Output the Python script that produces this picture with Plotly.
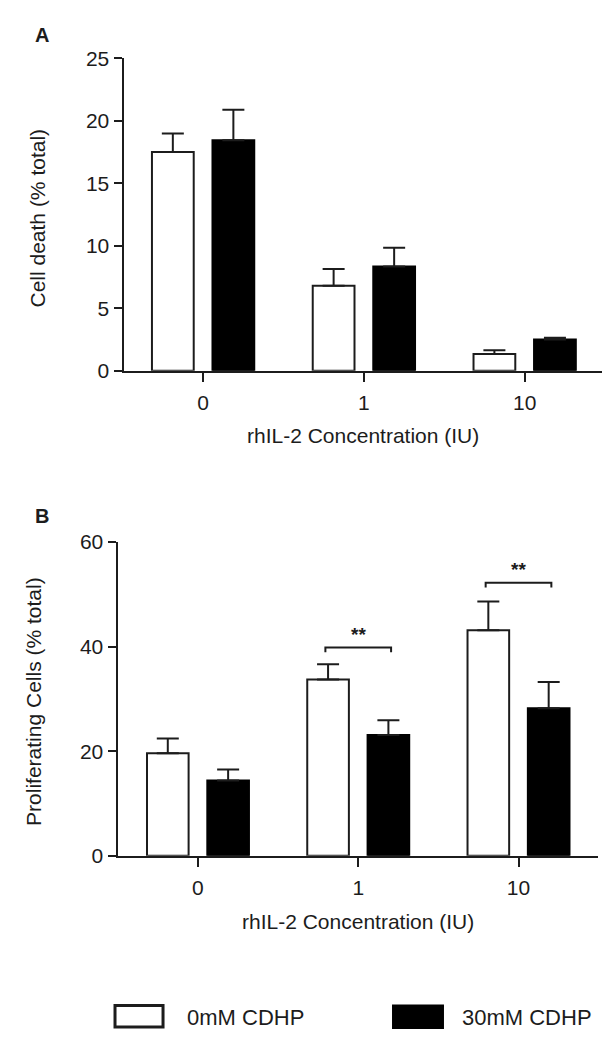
import plotly.graph_objects as go

# ---------------- data ----------------
categories = ["0", "1", "10"]
cat_pos = [0, 1, 2]

death_0mM = [17.5, 6.8, 1.35]
death_0mM_err = [1.5, 1.35, 0.3]
death_30mM = [18.45, 8.35, 2.5]
death_30mM_err = [2.45, 1.5, 0.15]

prolif_0mM = [19.6, 33.7, 43.1]
prolif_0mM_err = [2.8, 2.9, 5.5]
prolif_30mM = [14.4, 23.1, 28.2]
prolif_30mM_err = [2.1, 2.8, 5.0]

sig_categories = [1, 2]
sig_heights = [39.8, 52.2]
sig_labels = ["**", "**"]

series_names = ["0mM CDHP", "30mM CDHP"]

# ---------------- style ----------------
FONT = "Liberation Sans, Arial, Helvetica, sans-serif"
INK = "#1c1c1c"
BRACKET_HALF = 0.205
# the page body has an 8px default margin, so the figure is 8px smaller
W, H = 607, 1042

fig = go.Figure()


def add_pair(xa, ya, v0, e0, v1, e1):
    fig.add_trace(go.Bar(
        x=cat_pos, y=v0, name=series_names[0], xaxis=xa, yaxis=ya,
        marker=dict(color="white", line=dict(color=INK, width=2)),
        error_y=dict(type="data", array=e0, arrayminus=[0] * len(e0), symmetric=False,
                     color=INK, thickness=2, width=11),
        showlegend=False, offsetgroup="a"))
    fig.add_trace(go.Bar(
        x=cat_pos, y=v1, name=series_names[1], xaxis=xa, yaxis=ya,
        marker=dict(color="black", line=dict(color="black", width=2)),
        error_y=dict(type="data", array=e1, arrayminus=[0] * len(e1), symmetric=False,
                     color=INK, thickness=2, width=11),
        showlegend=False, offsetgroup="b"))


add_pair("x", "y", death_0mM, death_0mM_err, death_30mM, death_30mM_err)
add_pair("x2", "y2", prolif_0mM, prolif_0mM_err, prolif_30mM, prolif_30mM_err)

common_x = dict(tickmode="array", tickvals=cat_pos, ticktext=categories,
                showline=True, linecolor=INK, linewidth=2, ticks="outside",
                ticklen=9, tickwidth=2, tickcolor=INK, showgrid=False, zeroline=False,
                tickfont=dict(family=FONT, size=21, color=INK), ticklabelstandoff=3,
                fixedrange=True)
common_y = dict(showline=True, linecolor=INK, linewidth=2, ticks="outside",
                ticklen=8, tickwidth=2, tickcolor=INK, showgrid=False, zeroline=False,
                tickfont=dict(family=FONT, size=21, color=INK), fixedrange=True)

fig.update_layout(
    width=W, height=H,
    margin=dict(l=0, r=0, t=0, b=0),
    paper_bgcolor="white", plot_bgcolor="white",
    barmode="group", bargap=0.247, bargroupgap=0.31,
    font=dict(family=FONT, color=INK),
    xaxis=dict(domain=[0.1903, 0.9786], range=[-0.495, 2.481], anchor="y", **common_x),
    yaxis=dict(domain=[0.6558, 0.9623], range=[0, 25], tickvals=[0, 5, 10, 15, 20, 25],
               anchor="x", **common_y),
    xaxis2=dict(domain=[0.1804, 0.972], range=[-0.502, 2.496], anchor="y2", **common_x),
    yaxis2=dict(domain=[0.1798, 0.4878], range=[0, 60], tickvals=[0, 20, 40, 60],
                anchor="x2", **common_y),
)

# significance brackets (panel B)
drop = 0.9
for c, h, lab in zip(sig_categories, sig_heights, sig_labels):
    x0, x1 = c - BRACKET_HALF, c + BRACKET_HALF
    fig.add_shape(type="path", xref="x2", yref="y2",
                  path=f"M {x0},{h - drop} L {x0},{h} L {x1},{h} L {x1},{h - drop}",
                  line=dict(color=INK, width=2))
    fig.add_annotation(x=c, y=h + 0.1, xref="x2", yref="y2", text=f"<b>{lab}</b>",
                       showarrow=False, yanchor="bottom",
                       font=dict(family=FONT, size=19, color=INK))

# axis titles & panel letters
ann = [
    dict(x=0.0568, y=0.9851, text="<b>A</b>", font=dict(size=20)),
    dict(x=0.0568, y=0.5130, text="<b>B</b>", font=dict(size=20)),
    dict(x=0.0478, y=0.8052, text="Cell death (% total)", textangle=-90, font=dict(size=21)),
    dict(x=0.0417, y=0.3311, text="Proliferating Cells (% total)", textangle=-90, font=dict(size=21)),
    dict(x=0.5844, y=0.5921, text="rhIL-2 Concentration (IU)", font=dict(size=21)),
    dict(x=0.5763, y=0.1152, text="rhIL-2 Concentration (IU)", font=dict(size=21)),
]
for a in ann:
    f = dict(family=FONT, color=INK)
    f.update(a.pop("font"))
    fig.add_annotation(xref="paper", yref="paper", showarrow=False,
                       xanchor="center", yanchor="middle", font=f, **a)

# legend (drawn manually to match large key boxes)
fig.add_shape(type="rect", xref="paper", yref="paper", x0=0.1763, x1=0.2554, y0=0.0118, y1=0.0329,
              fillcolor="white", line=dict(color=INK, width=3))
fig.add_shape(type="rect", xref="paper", yref="paper", x0=0.6343, x1=0.7166, y0=0.0108, y1=0.0329,
              fillcolor="black", line=dict(color="black", width=2))
fig.add_annotation(xref="paper", yref="paper", x=0.2916, y=0.0211, text=series_names[0],
                   showarrow=False, xanchor="left", yanchor="middle",
                   font=dict(family=FONT, size=22, color=INK))
fig.add_annotation(xref="paper", yref="paper", x=0.7446, y=0.0211, text=series_names[1],
                   showarrow=False, xanchor="left", yanchor="middle",
                   font=dict(family=FONT, size=22, color=INK))

fig.write_html("out.html")
